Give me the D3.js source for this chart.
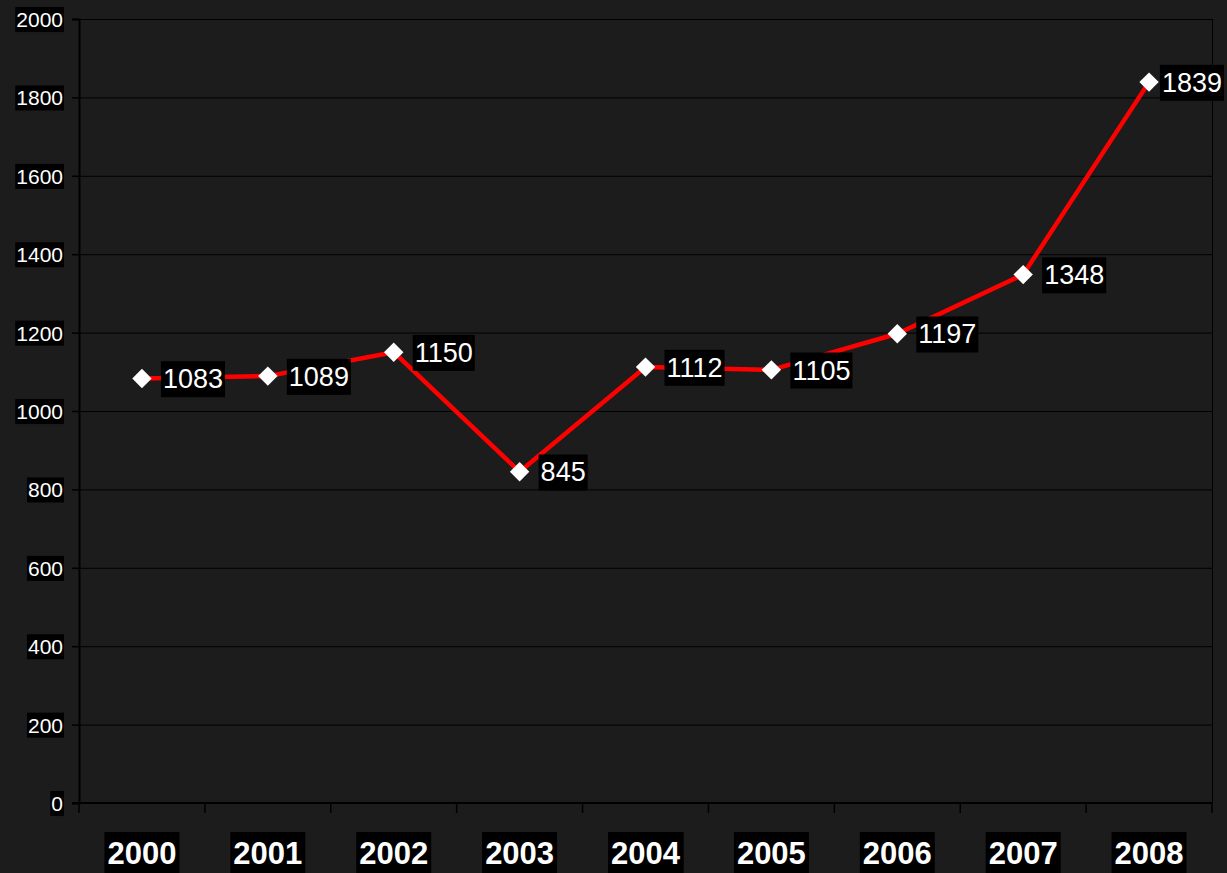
<!DOCTYPE html>
<html><head><meta charset="utf-8">
<script src="https://cdn.jsdelivr.net/npm/d3@7"></script>
<style>html,body{margin:0;padding:0;background:#1c1c1c;}svg{display:block;}</style>
</head><body>
<svg id="c" width="1227" height="873"></svg>
<script>
const years = ["2000","2001","2002","2003","2004","2005","2006","2007","2008"];
const values = [1083,1089,1150,845,1112,1105,1197,1348,1839];
const yTicks = [0,200,400,600,800,1000,1200,1400,1600,1800,2000];

const W = 1227, H = 873;
const m = {left:79, right:1212, top:19, bottom:803};
const svg = d3.select("#c");
svg.append("rect").attr("width",W).attr("height",H).attr("fill","#1c1c1c");

const x = d3.scaleBand().domain(years).range([m.left, m.right]).padding(0);
const y = d3.scaleLinear().domain([0,2000]).range([m.bottom, m.top]);

// gridlines
svg.append("g").selectAll("line").data(yTicks.filter(d=>d>0)).join("line")
  .attr("x1",m.left).attr("x2",m.right)
  .attr("y1",d=>y(d)+0.5).attr("y2",d=>y(d)+0.5)
  .attr("stroke","#000").attr("stroke-width",1);
svg.append("line").attr("x1",m.right+0.5).attr("x2",m.right+0.5).attr("y1",m.top).attr("y2",m.bottom).attr("stroke","#000").attr("stroke-width",1);

// Y axis
const yAxis = d3.axisLeft(y).tickValues(yTicks).tickSize(7).tickPadding(9).tickFormat(d3.format("d"));
const gy = svg.append("g").attr("transform",`translate(${m.left},0)`).call(yAxis);
gy.select(".domain").attr("stroke","#000").attr("stroke-width",2);
gy.selectAll(".tick line").attr("stroke","#000").attr("stroke-width",1.5);
gy.selectAll(".tick text").attr("fill","#fff").attr("font-family","Liberation Sans, Arial, sans-serif").attr("font-size",21).attr("dy","0.36em");

// X axis
const xAxis = d3.axisBottom(x).tickSize(0).tickFormat(d=>d);
const gx = svg.append("g").attr("transform",`translate(0,${m.bottom})`).call(xAxis);
gx.select(".domain").remove();
gx.selectAll(".tick text").remove();
svg.append("line").attr("x1",m.left-7).attr("x2",m.right).attr("y1",m.bottom).attr("y2",m.bottom).attr("stroke","#000").attr("stroke-width",2);
const bounds = years.map(d=>x(d)).concat([m.right]);
svg.append("g").selectAll("line").data(bounds).join("line")
  .attr("x1",d=>d).attr("x2",d=>d).attr("y1",m.bottom).attr("y2",m.bottom+10)
  .attr("stroke","#000").attr("stroke-width",1.5);

const xl = svg.append("g").selectAll("text").data(years).join("text")
  .attr("x",d=>x(d)+x.bandwidth()/2).attr("y",864)
  .attr("text-anchor","middle").attr("fill","#fff")
  .attr("font-family","Liberation Sans, Arial, sans-serif").attr("font-weight","bold").attr("font-size",31)
  .text(d=>d);

// line
const cx = d=>x(d)+x.bandwidth()/2;
const line = d3.line().x((d,i)=>cx(years[i])).y(d=>y(d));
svg.append("path").datum(values).attr("d",line).attr("fill","none").attr("stroke","#ff0000").attr("stroke-width",4.5).attr("stroke-linejoin","round");

// markers
svg.append("g").selectAll("path").data(values).join("path")
  .attr("transform",(d,i)=>`translate(${cx(years[i])},${y(d)})`)
  .attr("d",d3.symbol().type(d3.symbolDiamond2).size(240))
  .attr("fill","#fff");

// data labels
const dl = svg.append("g").selectAll("text").data(values).join("text")
  .attr("x",(d,i)=>cx(years[i])+21).attr("y",d=>y(d)).attr("dy","0.36em")
  .attr("fill","#fff").attr("font-family","Liberation Sans, Arial, sans-serif").attr("font-size",27)
  .text(d=>d);
// keep labels inside the chart width
dl.each(function(){
  const b = this.getBBox();
  const maxRight = W - 5;
  if (b.x + b.width > maxRight) {
    d3.select(this).attr("x", +d3.select(this).attr("x") - (b.x + b.width - maxRight));
  }
});

function boxes(sel, padX, padTop, padBot){
  sel.each(function(){
    const b = this.getBBox();
    d3.select(this.parentNode).insert("rect", ()=>this)
      .attr("x",b.x-padX).attr("y",b.y-padTop).attr("width",b.width+2*padX).attr("height",b.height+padTop+padBot)
      .attr("fill","#000");
  });
}
boxes(gy.selectAll(".tick text"),1,1,1);
boxes(xl,3,4,4);
boxes(dl,2,3,3);
</script>
</body></html>
